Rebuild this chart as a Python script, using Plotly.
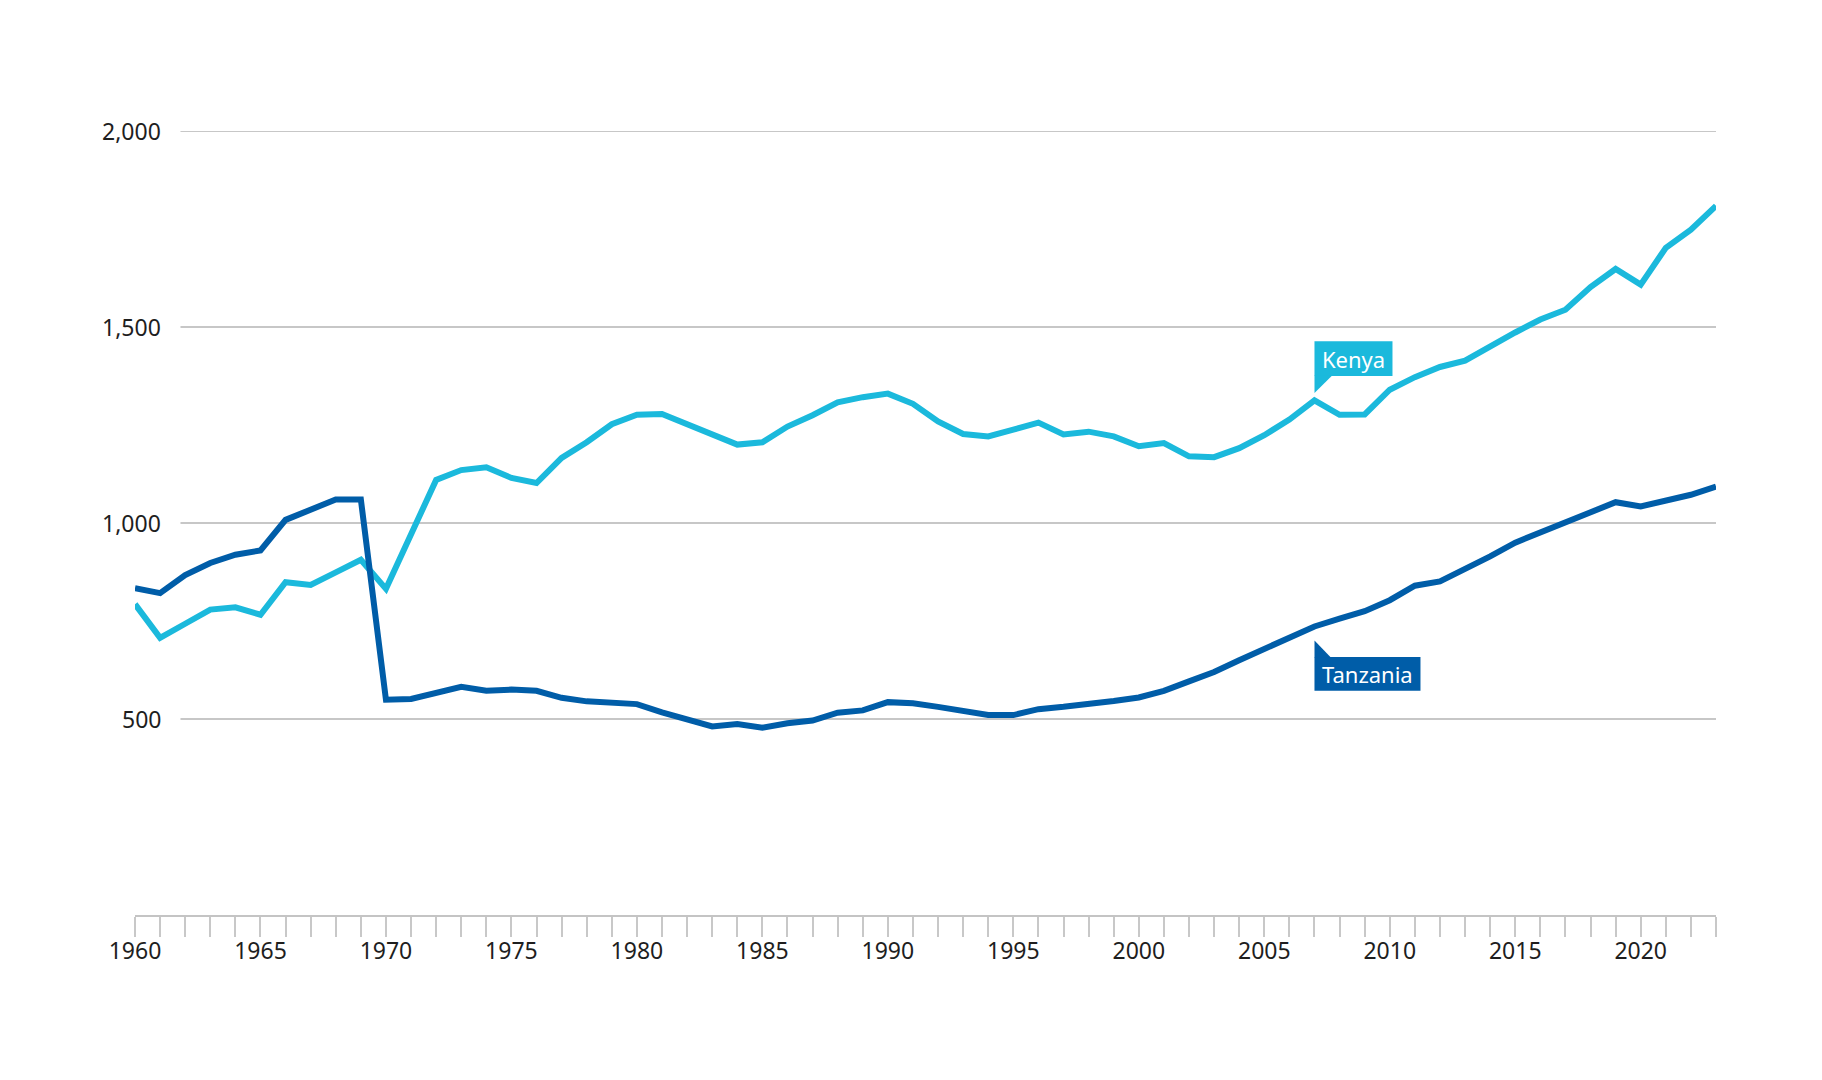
import plotly.graph_objects as go

years = list(range(1960, 2024))
kenya = [793, 707, 743, 779, 785, 766, 849, 842, 874, 906,
         832, 975, 1110, 1135, 1142, 1115, 1102, 1166, 1206, 1252,
         1276, 1278, 1252, 1225, 1200, 1206, 1246, 1275, 1308, 1321,
         1330, 1304, 1259, 1227, 1221, 1238, 1256, 1226, 1233, 1221,
         1196, 1204, 1170, 1168, 1191, 1224, 1264, 1313, 1276, 1277,
         1340, 1372, 1398, 1414, 1451, 1486, 1519, 1544, 1602, 1648,
         1608, 1702, 1748, 1809]
tanzania = [834, 821, 867, 898, 919, 930, 1008, 1032, 1060, 1060,
            549, 551, 568, 582, 572, 575, 572, 554, 545, 541,
            538, 517, 498, 481, 487, 478, 489, 496, 516, 522,
            543, 540, 531, 519, 510, 510, 525, 531, 537, 546,
            555, 572, 596, 620, 650, 679, 705, 736, 756, 775,
            803, 840, 851, 881, 915, 950, 976, 1004, 1027, 1053,
            1042, 1057, 1072, 1093]
y_ticks = [500, 1000, 1500, 2000]
y_tick_labels = ["500", "1,000", "1,500", "2,000"]
x_tick_labels = [str(y) if y % 5 == 0 else "" for y in years]
label_year = 2007

KENYA_C = "#1bb9dc"
TANZ_C = "#005da8"
FONT = "Noto Sans"
TXT = "#1e1e1e"

# page body has an 8px default margin; compensate so the chart sits where the reference does
OFF = 8
W, H = 1822 - OFF, 1080 - OFF
L, R = 134.5 - OFF, 1716.0 - OFF
T, B = 131.0 - OFF, 915.3 - OFF

fig = go.Figure()
fig.add_trace(go.Scatter(x=years, y=kenya, mode="lines", name="Kenya",
                         line=dict(color=KENYA_C, width=6)))
fig.add_trace(go.Scatter(x=years, y=tanzania, mode="lines", name="Tanzania",
                         line=dict(color=TANZ_C, width=6)))

grid_x0 = (180 - OFF - L) / (R - L)
shapes = []
for v in y_ticks:
    shapes.append(dict(type="line", xref="paper", yref="y", x0=grid_x0, x1=1,
                       y0=v, y1=v, line=dict(color="#b4b4b4", width=1.5),
                       layer="below"))

annotations = []
lab_x = (162 - OFF - L) / (R - L)
for v, t in zip(y_ticks, y_tick_labels):
    annotations.append(dict(xref="paper", yref="y", x=lab_x, y=v, text=t,
                            showarrow=False, xanchor="right", yanchor="middle",
                            font=dict(family=FONT, size=23, color=TXT),
                            borderpad=0))

idx = years.index(label_year)
k_val = kenya[idx]
t_val = tanzania[idx]

# Kenya callout
shapes.append(dict(type="rect", xref="x", yref="y", xsizemode="pixel", ysizemode="pixel",
                   xanchor=label_year, yanchor=k_val, x0=0, x1=78, y0=24.3, y1=59,
                   fillcolor=KENYA_C, line=dict(width=0)))
shapes.append(dict(type="path", xref="x", yref="y", xsizemode="pixel", ysizemode="pixel",
                   xanchor=label_year, yanchor=k_val, path="M0,24.8 L17.7,24.8 L0,7.3 Z",
                   fillcolor=KENYA_C, line=dict(width=0)))
annotations.append(dict(xref="x", yref="y", x=label_year, y=k_val, text="Kenya",
                        showarrow=False, xanchor="left", yanchor="middle",
                        xshift=7, yshift=41.6, borderpad=0,
                        font=dict(family=FONT, size=22, color="white")))

# Tanzania callout
shapes.append(dict(type="rect", xref="x", yref="y", xsizemode="pixel", ysizemode="pixel",
                   xanchor=label_year, yanchor=t_val, x0=0, x1=106, y0=-30.5, y1=-64.2,
                   fillcolor=TANZ_C, line=dict(width=0)))
shapes.append(dict(type="path", xref="x", yref="y", xsizemode="pixel", ysizemode="pixel",
                   xanchor=label_year, yanchor=t_val, path="M0,-31 L16.4,-31 L0,-13.9 Z",
                   fillcolor=TANZ_C, line=dict(width=0)))
annotations.append(dict(xref="x", yref="y", x=label_year, y=t_val, text="Tanzania",
                        showarrow=False, xanchor="left", yanchor="middle",
                        xshift=7, yshift=-47.4, borderpad=0,
                        font=dict(family=FONT, size=22, color="white")))

fig.update_layout(
    width=W, height=H,
    margin=dict(l=L, r=W - R, t=T, b=H - B, pad=0),
    paper_bgcolor="white", plot_bgcolor="white",
    showlegend=False,
    shapes=shapes, annotations=annotations,
    xaxis=dict(range=[1960, 2023], tickvals=years, ticktext=x_tick_labels,
               showgrid=False, zeroline=False, showline=True, linecolor="#c4c4c4",
               linewidth=2, ticks="outside", ticklen=20, tickwidth=1.5,
               tickcolor="#c8c8c8", ticklabelstandoff=-6,
               tickfont=dict(family=FONT, size=23, color=TXT)),
    yaxis=dict(range=[0, 2000], showgrid=False, zeroline=False, showline=False,
               showticklabels=False, ticks=""),
)

fig.write_html("out.html")
